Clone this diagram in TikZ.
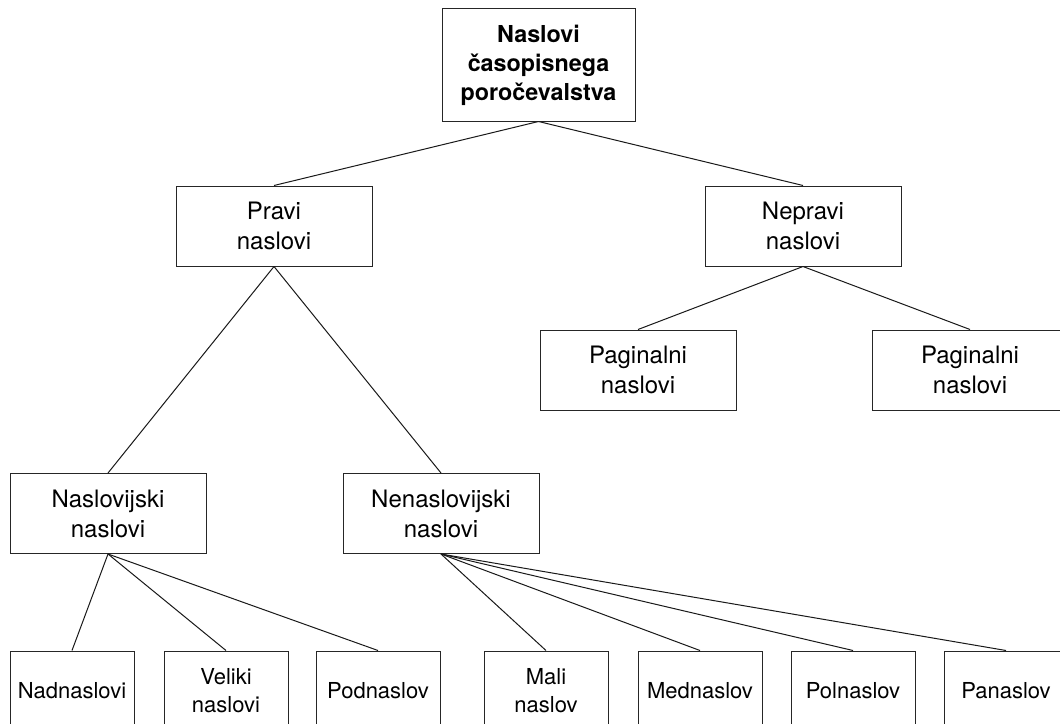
\documentclass[tikz,border=0pt]{standalone}
\usepackage{fontspec}
\setmainfont{TeX Gyre Heros}
\begin{document}
\begin{tikzpicture}[x=0.75pt,y=-0.75pt,
  box/.style={draw=black!85, line width=0.75pt, inner sep=0pt, align=center,
    font=\fontsize{18}{22.5}\selectfont},
  wide/.style={box, minimum width=147pt, minimum height=60pt},
  small/.style={box, minimum width=93pt, minimum height=60pt,
    font=\fontsize{16.5}{21}\selectfont},
  topbox/.style={box, minimum width=144.75pt, minimum height=84pt,
    font=\fontsize{17.5}{21.75}\selectfont\bfseries},
  link/.style={draw=black!90, line width=0.75pt}]
\useasboundingbox (0,0) rectangle (1060,724);
\clip (0,0) rectangle (1060,724);
\fill[white] (0,0) rectangle (1060,724);

\node[topbox] (top) at (538.5,65) {Naslovi\\časopisnega\\poročevalstva};
\node[wide] (pravi) at (274,226) {Pravi\\naslovi};
\node[wide] (nepravi) at (803,226) {Nepravi\\naslovi};
\node[wide] (pag1) at (638,370) {Paginalni\\naslovi};
\node[wide] (pag2) at (970,370) {Paginalni\\naslovi};
\node[wide] (nasl) at (108,513.5) {Naslovijski\\naslovi};
\node[wide] (nenasl) at (441,513.5) {Nenaslovijski\\naslovi};

\node[small] (nad) at (72,691) {Nadnaslovi};
\node[small] (vel) at (226,691) {Veliki\\naslovi};
\node[small] (pod) at (378,691) {Podnaslov};
\node[small] (mali) at (546,691) {Mali\\naslov};
\node[small] (med) at (700,691) {Mednaslov};
\node[small] (pol) at (853,691) {Polnaslov};
\node[small] (pan) at (1006,691) {Panaslov};

\draw[link] (top.south) -- (pravi.north);
\draw[link] (top.south) -- (nepravi.north);
\draw[link] (nepravi.south) -- (pag1.north);
\draw[link] (nepravi.south) -- (pag2.north);
\draw[link] (pravi.south) -- (nasl.north);
\draw[link] (pravi.south) -- (nenasl.north);
\draw[link] (nasl.south) -- (nad.north);
\draw[link] (nasl.south) -- (vel.north);
\draw[link] (nasl.south) -- (pod.north);
\draw[link] (nenasl.south) -- (mali.north);
\draw[link] (nenasl.south) -- (med.north);
\draw[link] (nenasl.south) -- (pol.north);
\draw[link] (nenasl.south) -- (pan.north);
\end{tikzpicture}
\end{document}
